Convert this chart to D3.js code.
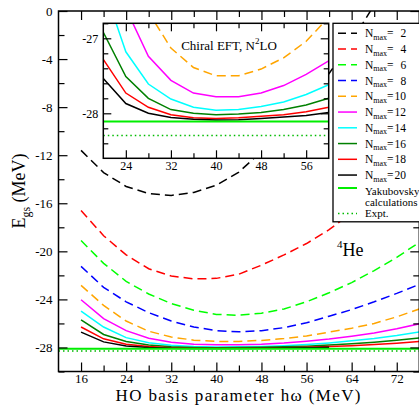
<!DOCTYPE html>
<html>
<head>
<meta charset="utf-8">
<script src="https://cdn.jsdelivr.net/npm/d3@7"></script>
<style>
  body { margin: 0; background: #fff; }
  svg { display: block; font-family: "Liberation Serif", "DejaVu Serif", serif; }
</style>
</head>
<body>
<svg id="chart"></svg>
<script>
const width = 419, height = 405;

// hω grid (MeV) and ground-state energies (MeV) per Nmax
const hw = [16, 20, 24, 28, 32, 36, 40, 44, 48, 52, 56, 60, 64, 68, 72, 76];
const nmax2  = [-11.6, -13.45, -14.6, -15.2, -15.35, -15.1, -14.5, -13.4, -11.7, -9.7, -7.5, -5.2, -2.5, 0.5, 3.8, 7.4];
const nmax4  = [-16.6, -18.7, -20.3, -21.45, -22.05, -22.3, -22.25, -21.9, -21.15, -20.3, -19.35, -18.2, -16.8, -15.3, -13.6, -11.8];
const nmax6  = [-19.1, -21.0, -22.5, -23.55, -24.35, -24.9, -25.25, -25.32, -25.15, -24.8, -24.2, -23.45, -22.6, -21.6, -20.5, -19.25];
const nmax8  = [-21.25, -23.0, -24.2, -25.1, -25.8, -26.3, -26.6, -26.7, -26.6, -26.35, -25.95, -25.4, -24.85, -24.2, -23.5, -22.75];
const nmax10 = [-22.83, -24.5, -25.8, -26.65, -27.13, -27.39, -27.5, -27.5, -27.41, -27.26, -27.04, -26.72, -26.4, -26.0, -25.45, -24.8];
const nmax12 = [-24.03, -25.6, -26.6, -27.24, -27.56, -27.73, -27.78, -27.78, -27.73, -27.63, -27.48, -27.3, -27.07, -26.8, -26.45, -26.03];
const nmax14 = [-24.97, -26.3, -27.18, -27.61, -27.81, -27.92, -27.96, -27.95, -27.91, -27.85, -27.75, -27.62, -27.45, -27.25, -27.0, -26.7];
const nmax16 = [-25.7, -26.92, -27.51, -27.8, -27.95, -28.0, -28.02, -28.01, -27.99, -27.95, -27.89, -27.8, -27.7, -27.57, -27.4, -27.2];
const nmax18 = [-26.3, -27.28, -27.73, -27.92, -28.02, -28.06, -28.07, -28.06, -28.04, -28.02, -27.98, -27.92, -27.85, -27.76, -27.65, -27.5];
const nmax20 = [-26.72, -27.535, -27.87, -28.0, -28.057, -28.08, -28.09, -28.085, -28.07, -28.05, -28.03, -27.99];

const yakubovsky = -28.11;
const expt = -28.296;

const nmaxLabels = ["2", "4", "6", "8", "10", "12", "14", "16", "18", "20"];
const nmaxColors = ["#000000", "#ff0000", "#00ff00", "#0000ff", "#ffa500", "#ff00ff", "#00ffff", "#008000", "#ff0000", "#000000"];
const nmaxDashed = [true, true, true, true, true, false, false, false, false, false];

// tick values
const mainXTicks = [16, 24, 32, 40, 48, 56, 64, 72];
const mainXMinor = [20, 28, 36, 44, 52, 60, 68, 76];
const mainYTicks = [0, -4, -8, -12, -16, -20, -24, -28];
const mainYMinor = [-2, -6, -10, -14, -18, -22, -26, -30];
const insetXTicks = [24, 32, 40, 48, 56];
const insetXMinor = [28, 36, 44, 52];
const insetYTicks = [-27, -28];
const insetYMinor = [-26.8, -27.2, -27.4, -27.6, -27.8, -28.2, -28.4];

const series = [nmax2, nmax4, nmax6, nmax8, nmax10, nmax12, nmax14, nmax16, nmax18, nmax20]
  .map((vals, i) => ({
    label: nmaxLabels[i],
    color: nmaxColors[i],
    dashed: nmaxDashed[i],
    points: vals.map((e, j) => ({ hw: hw[j], e: e }))
  }));

const svg = d3.select("#chart").attr("width", width).attr("height", height);
const defs = svg.append("defs");

// main panel scales
const x = d3.scaleLinear().domain([12, 76]).range([58.5, 419.3]);
const y = d3.scaleLinear().domain([-30, 0]).range([371.5, 11]);

// inset scales
const xi = d3.scaleLinear().domain([20, 60]).range([103.3, 328.7]);
const yi = d3.scaleLinear().domain([-28.6, -26.8]).range([158.3, 23.3]);

function addClip(id, sx, sy) {
  defs.append("clipPath").attr("id", id).append("rect")
    .attr("x", sx.range()[0]).attr("y", sy.range()[1])
    .attr("width", sx.range()[1] - sx.range()[0])
    .attr("height", sy.range()[0] - sy.range()[1]);
}
addClip("clip-main", x, y);
addClip("clip-inset", xi, yi);

function drawCurves(g, sx, sy) {
  const line = d3.line().x(d => sx(d.hw)).y(d => sy(d.e));
  g.selectAll(".curve")
    .data(series)
    .enter()
    .append("path")
    .attr("class", "curve")
    .attr("fill", "none")
    .attr("stroke", d => d.color)
    .attr("stroke-width", 1.5)
    .attr("stroke-dasharray", d => d.dashed ? "9,5" : null)
    .attr("d", d => line(d.points));

  // Yakubovsky and experiment reference lines
  g.append("line")
    .attr("x1", sx.range()[0]).attr("x2", sx.range()[1])
    .attr("y1", sy(yakubovsky)).attr("y2", sy(yakubovsky))
    .attr("stroke", "#00ee00").attr("stroke-width", 2);
  g.append("line")
    .attr("x1", sx.range()[0]).attr("x2", sx.range()[1])
    .attr("y1", sy(expt)).attr("y2", sy(expt))
    .attr("stroke", "#00bb00").attr("stroke-width", 1.5)
    .attr("stroke-dasharray", "1.5,3");
}

function drawFrameAxes(g, sx, sy, opt) {
  const bottom = sy.range()[0], top = sy.range()[1];
  const left = sx.range()[0], right = sx.range()[1];
  const fmt = d => String(d);

  const b = g.append("g").attr("transform", `translate(0,${bottom})`)
    .call(d3.axisBottom(sx).tickValues(opt.xTicks).tickSize(-opt.major).tickSizeOuter(0)
      .tickPadding(opt.xPad).tickFormat(fmt));
  b.selectAll("text").style("font-size", opt.font + "px");
  g.append("g").attr("transform", `translate(0,${bottom})`)
    .call(d3.axisBottom(sx).tickValues(opt.xMinor).tickSize(-opt.minor).tickSizeOuter(0).tickFormat(""));
  g.append("g").attr("transform", `translate(0,${top})`)
    .call(d3.axisTop(sx).tickValues(opt.xTicks).tickSize(-opt.major).tickSizeOuter(0).tickFormat(""));
  g.append("g").attr("transform", `translate(0,${top})`)
    .call(d3.axisTop(sx).tickValues(opt.xMinor).tickSize(-opt.minor).tickSizeOuter(0).tickFormat(""));

  const l = g.append("g").attr("transform", `translate(${left},0)`)
    .call(d3.axisLeft(sy).tickValues(opt.yTicks).tickSize(-opt.major).tickSizeOuter(0)
      .tickPadding(opt.yPad).tickFormat(fmt));
  l.selectAll("text").style("font-size", opt.font + "px");
  g.append("g").attr("transform", `translate(${left},0)`)
    .call(d3.axisLeft(sy).tickValues(opt.yMinor).tickSize(-opt.minor).tickSizeOuter(0).tickFormat(""));
  g.append("g").attr("transform", `translate(${right},0)`)
    .call(d3.axisRight(sy).tickValues(opt.yTicks).tickSize(-opt.major).tickSizeOuter(0).tickFormat(""));
  g.append("g").attr("transform", `translate(${right},0)`)
    .call(d3.axisRight(sy).tickValues(opt.yMinor).tickSize(-opt.minor).tickSizeOuter(0).tickFormat(""));

  g.selectAll(".domain").remove();
  g.selectAll(".tick line").attr("stroke", "#000").attr("stroke-width", 1.2);
  g.selectAll(".tick text").attr("fill", "#000").style("font-family", "'Liberation Serif', serif");

  g.append("rect")
    .attr("x", left).attr("y", top)
    .attr("width", right - left).attr("height", bottom - top)
    .attr("fill", "none").attr("stroke", "#000").attr("stroke-width", 1.5);
}

// main panel
const mainCurves = svg.append("g").attr("clip-path", "url(#clip-main)");
drawCurves(mainCurves, x, y);
drawFrameAxes(svg.append("g"), x, y, {
  xTicks: mainXTicks, xMinor: mainXMinor, yTicks: mainYTicks, yMinor: mainYMinor,
  major: 9, minor: 6, xPad: 2, yPad: 6, font: 13
});

// 4He label
const heLabel = svg.append("text").attr("x", 337).attr("y", 256).style("font-size", "18px");
heLabel.append("tspan").attr("dy", -8).style("font-size", "11px").text("4");
heLabel.append("tspan").attr("dy", 8).text("He");

// axis titles
svg.append("text")
  .attr("x", 238).attr("y", 401)
  .attr("text-anchor", "middle")
  .attr("textLength", 245)
  .style("font-size", "17px")
  .text("HO basis parameter hω  (MeV)");

const yTitle = svg.append("text")
  .attr("transform", "translate(25,191) rotate(-90)")
  .attr("text-anchor", "middle")
  .style("font-size", "18px");
yTitle.append("tspan").text("E");
yTitle.append("tspan").attr("dy", 5).style("font-size", "12px").text("gs");
yTitle.append("tspan").attr("dy", -5).text(" (MeV)");

// inset
const inset = svg.append("g");
inset.append("rect")
  .attr("x", xi.range()[0]).attr("y", yi.range()[1])
  .attr("width", xi.range()[1] - xi.range()[0])
  .attr("height", yi.range()[0] - yi.range()[1])
  .attr("fill", "#fff");
drawCurves(inset.append("g").attr("clip-path", "url(#clip-inset)"), xi, yi);
drawFrameAxes(inset.append("g"), xi, yi, {
  xTicks: insetXTicks, xMinor: insetXMinor, yTicks: insetYTicks, yMinor: insetYMinor,
  major: 8, minor: 5, xPad: 3, yPad: 5, font: 12
});
const insetTitle = inset.append("text")
  .attr("x", 229).attr("y", 50)
  .attr("text-anchor", "middle")
  .style("font-size", "13px");
insetTitle.append("tspan").text("Chiral EFT, N");
insetTitle.append("tspan").attr("dy", -6).style("font-size", "9px").text("2");
insetTitle.append("tspan").attr("dy", 6).text("LO");

// legend
const legend = svg.append("g");
legend.append("rect")
  .attr("x", 333).attr("y", 23.3)
  .attr("width", 100).attr("height", 198.5)
  .attr("fill", "#fff").attr("stroke", "#000").attr("stroke-width", 1.3);

const rowY = i => 33.3 + i * 15.75;
const rows = legend.selectAll(".row")
  .data(series)
  .enter()
  .append("g")
  .attr("class", "row")
  .attr("transform", (d, i) => `translate(0,${rowY(i)})`);
rows.append("line")
  .attr("x1", 338).attr("x2", 357)
  .attr("stroke", d => d.color).attr("stroke-width", 1.5)
  .attr("stroke-dasharray", d => d.dashed ? "8,5" : null);
const rowText = rows.append("text")
  .attr("x", 365).attr("y", 4)
  .style("font-size", "11.5px");
rowText.append("tspan").text("N");
rowText.append("tspan").attr("dy", 2.5).style("font-size", "8px").text("max");
rowText.append("tspan").attr("dy", -2.5).text("=");
// single digits are pushed right so numbers line up on their right edge
rowText.append("tspan")
  .attr("dx", d => d.label.length === 1 ? 7 : 1)
  .text(d => d.label);

legend.append("line")
  .attr("x1", 338).attr("x2", 357).attr("y1", 188).attr("y2", 188)
  .attr("stroke", "#00ee00").attr("stroke-width", 2);
legend.append("text").attr("x", 365).attr("y", 194.5).style("font-size", "11px").text("Yakubovsky");
legend.append("text").attr("x", 365).attr("y", 205.5).style("font-size", "11px").text("calculations");
legend.append("line")
  .attr("x1", 338).attr("x2", 357).attr("y1", 213.5).attr("y2", 213.5)
  .attr("stroke", "#00bb00").attr("stroke-width", 1.5)
  .attr("stroke-dasharray", "1.5,3");
legend.append("text").attr("x", 365).attr("y", 217).style("font-size", "11px").text("Expt.");
</script>
</body>
</html>
